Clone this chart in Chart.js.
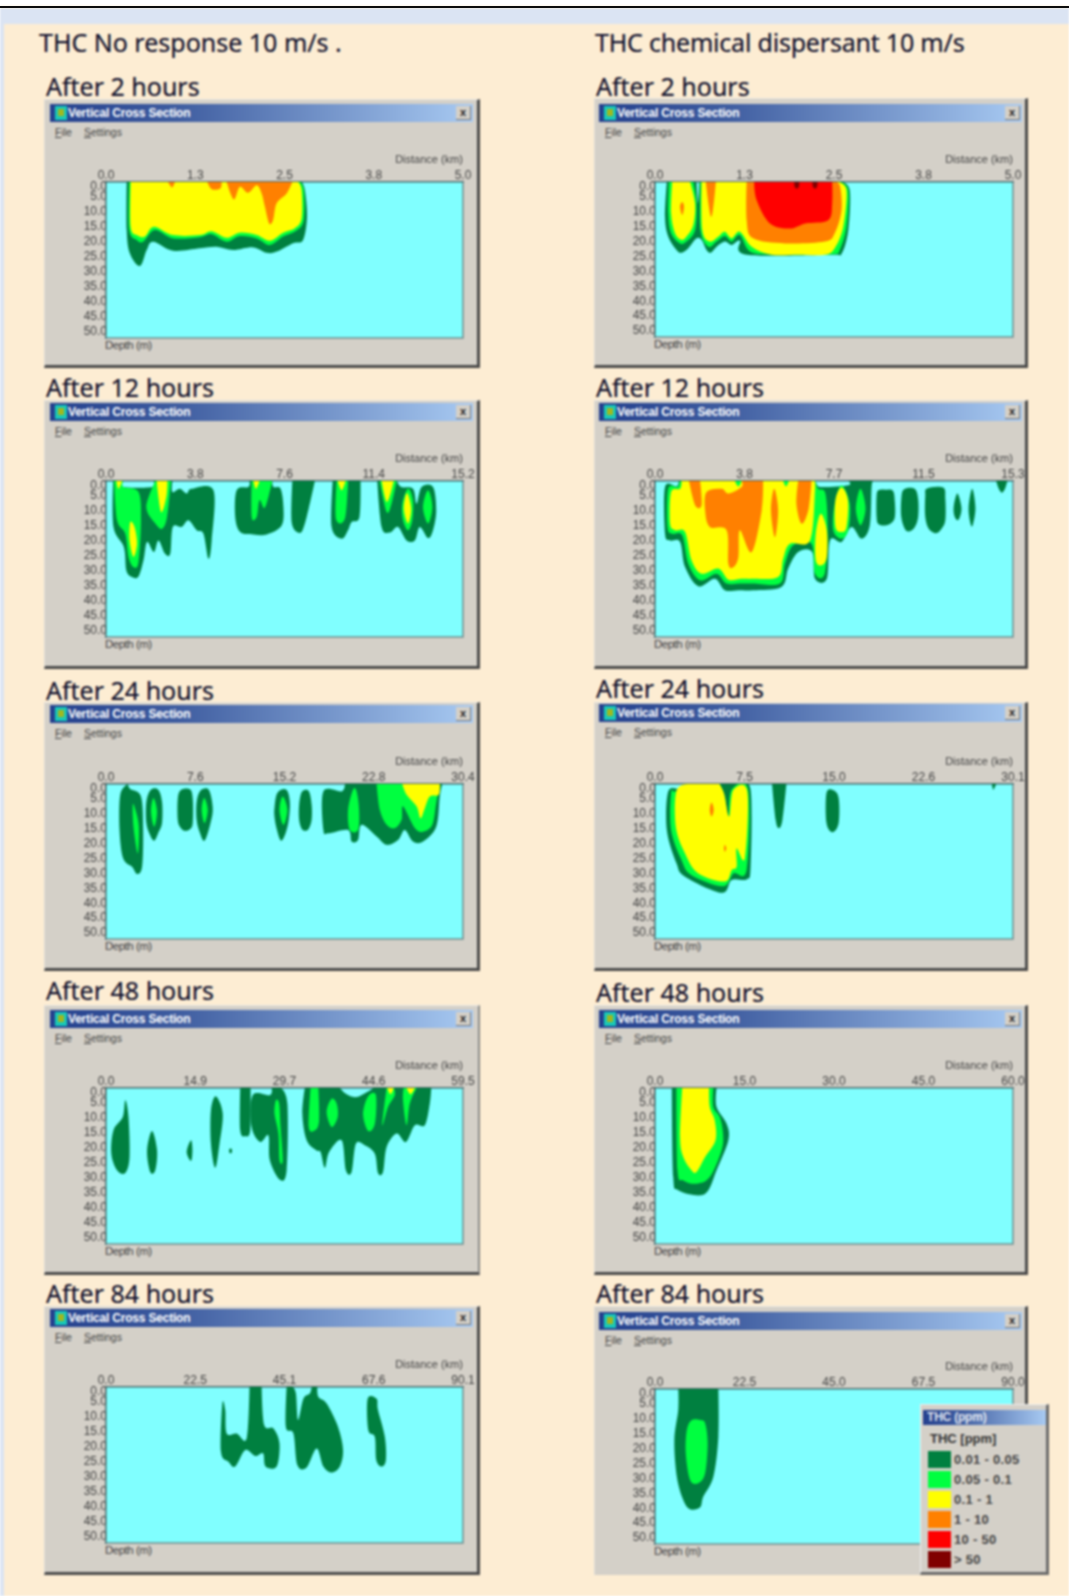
<!DOCTYPE html>
<html><head><meta charset="utf-8">
<script src="https://cdn.jsdelivr.net/npm/chart.js@4/dist/chart.umd.min.js"></script>
<style>
html,body{margin:0;padding:0;background:#fff;overflow:hidden}
#page{position:absolute;left:0;top:0;width:1069px;height:1596px;background:#fdedd3;overflow:hidden;filter:blur(.8px);font-family:"Liberation Sans",Arial,sans-serif}
#rule{position:absolute;left:0;top:6px;width:1069px;height:2px;background:#0c0c0c}
.abs{position:absolute;white-space:nowrap}
.head{font-family:"Noto Sans",sans-serif;font-size:25px;line-height:32px;color:#10102c;-webkit-text-stroke:.2px #10102c}
.win{position:absolute;background:#d4d0c8;box-sizing:border-box}
.bar{position:absolute;background:linear-gradient(90deg,#24408e 0%,#3f5da0 30%,#a8caf2 100%)}
.bar span.t{position:absolute;left:18px;top:0;line-height:18px;color:#fff;font-size:12px;font-weight:bold;letter-spacing:-.2px;white-space:nowrap}
.ico{position:absolute;left:5px;top:2px;width:12px;height:14px;background:#18c8b8}
.ico:after{content:"";position:absolute;left:3px;top:3px;width:6px;height:7px;background:#a0b820}
.xb{position:absolute;top:2px;width:14px;height:13px;background:#d4d0c8;color:#222;font-size:11px;font-weight:bold;text-align:center;line-height:13px;border-right:1px solid #777;border-bottom:1px solid #777}
.menu{position:absolute;font-size:10.5px;color:#444;line-height:12px}
.lab{position:absolute;font-size:11.5px;color:#444;line-height:14px;letter-spacing:-.5px}
canvas{position:absolute}
</style></head><body><div id="page"></div><div id="rule"></div>
<script>
// Contaminant classes (ppm)
const levelLabels = ['0.01 - 0.05','0.05 - 0.1','0.1 - 1','1 - 10','10 - 50','> 50'];
const levelColors = ['#008040','#00ff40','#ffff00','#ff8000','#ff0000','#800000'];
const depthTicks = [1.6,5,10,15,20,25,30,35,40,45,50];
const depthLabels = ['0.0','5.0','10.0','15.0','20.0','25.0','30.0','35.0','40.0','45.0','50.0'];

// Distance axes, km
const distLabelsA2 = ['0.0','1.3','2.5','3.8','5.0'];
const distLabelsB2 = ['0.0','1.3','2.5','3.8','5.0'];
const distLabelsA12 = ['0.0','3.8','7.6','11.4','15.2'];
const distLabelsB12 = ['0.0','3.8','7.7','11.5','15.3'];
const distLabelsA24 = ['0.0','7.6','15.2','22.8','30.4'];
const distLabelsB24 = ['0.0','7.5','15.0','22.6','30.1'];
const distLabelsA48 = ['0.0','14.9','29.7','44.6','59.5'];
const distLabelsB48 = ['0.0','15.0','30.0','45.0','60.0'];
const distLabelsA84 = ['0.0','22.5','45.1','67.6','90.1'];
const distLabelsB84 = ['0.0','22.5','45.0','67.5','90.0'];

// Plume outlines: [percent of section length, depth in m]
const A2_l1 = [[[5.8,0],[5.8,16],[6.7,23.8],[9.5,28],[11.4,22.7],[13.2,19.9],[18.8,22.9],[26.3,22.1],[31,21.6],[35.6,22.7],[41.2,21.8],[45,23.6],[47.8,23.2],[52.4,20.4],[55.2,19.3],[56.3,11.6],[55.7,2.7],[54.8,0]]];
const A2_l2 = [[[6.5,0],[6.5,16],[8.6,19.3],[10.4,19.9],[13.7,16],[18.8,18.8],[26.3,18.4],[29.6,17.4],[33.8,19.9],[37.5,18],[42.2,18.8],[45.9,21],[49.6,18.2],[53.4,16.2],[55.4,12.7],[55.4,2.7],[54.3,0]]];
const A2_l3 = [[[6.9,0],[6.9,14.9],[8.6,17.7],[10.9,18.2],[13.4,14.9],[18.8,17.7],[26.3,17.7],[29.6,16.4],[33.8,18.6],[37.5,16.9],[42.2,17.7],[45.9,19.6],[49.6,16.9],[52.9,15.4],[54.8,12.1],[54.8,2.7],[53.8,0]]];
const A2_l4 = [[[17.4,0],[18.5,1.8],[19.3,0]],[[28.4,0],[29.6,2.4],[32,2.2],[32.4,0]],[[33.8,0],[35.8,5.8],[37.5,1.6],[39.8,3.6],[42.2,1.1],[43.6,3.8],[44.5,8.2],[45.7,13.8],[46.8,12.7],[47.8,7.1],[50.6,3.8],[52.2,0]]];

const B2_l1 = [[[3.3,0],[2.8,11.7],[3.7,18.3],[6,22.8],[7.4,23.7],[9.3,22.2],[11.6,18.9],[13,19.4],[14.4,22.8],[15.6,23.7],[17.2,21.7],[19.5,20],[21.4,21.1],[23.7,19.7],[25.6,24.4],[49.3,24.4],[52.1,24.1],[54,16.1],[54.4,2.8],[52.1,0],[12.4,0],[12,7.2],[11.6,0]]];
const B2_l2 = [[[3.9,0],[3.7,10.6],[4.5,17.2],[7,20.6],[8.8,20],[11.2,16.1],[11.6,7.2],[10.7,0]],[[12.7,0],[12.7,16.1],[14.9,21.7],[17.2,20],[19.5,18.1],[21.4,20],[23.7,17.8],[26.5,23.3],[32.6,24.4],[40,24.4],[49.8,24.2],[51.6,22.8],[53.5,15],[54,2.8],[51.6,0]]];
const B2_l3 = [[[4.8,0],[4.5,10.6],[5.6,17.2],[7.4,19.4],[8.8,18.3],[10.7,14.4],[11.2,7.2],[9.8,0]],[[13,0],[13.2,16.1],[15.3,20],[17.7,18.3],[19.5,16.7],[21.4,18.9],[23.7,16.7],[27,21.7],[32.6,24.4],[40,24.4],[47.4,24.4],[50.2,22.2],[52.6,15],[53.5,2.8],[51.2,0]]];
const B2_l4 = [[[7.6,6.7],[7,8.3],[7.6,11.1],[8.1,8.3]],[[14.2,0],[15.7,11.7],[17,0]],[[25.6,0],[25.6,12.8],[27.4,18.9],[36.3,20.6],[47.4,20],[50.2,17.2],[52.1,9.4],[51.6,1.1],[49.8,0]]];
const B2_l5 = [[[27.7,0],[28.4,6.1],[32.1,13.9],[37.7,15.6],[42,13.9],[48.4,12.8],[49.5,7.2],[49.5,0]]];
const B2_l6 = [[[38.9,0],[39,1.6],[39.6,2.2],[40.2,1.6],[40.3,0]],[[44,0],[44.1,1.6],[44.7,2.2],[45.3,1.6],[45.4,0]]];

const A12_l1 = [
 [[2,0],[2.1,15.3],[5,22],[5.7,29.8],[7.3,32],[9.1,31.8],[10.5,26.4],[11.5,20.3],[13.4,23.7],[14.7,19.8],[16.5,24.2],[18,24.2],[18.7,15.3],[21.2,15.3],[23.1,13.1],[25.4,16.4],[27.3,17.6],[28.7,25.9],[29.6,19.8],[30.1,3.1],[24,2.6],[22.6,4.2],[20.7,2.6],[18.6,3.7],[18.6,0],[13.3,0],[12.9,2],[4.9,2],[4.9,0]],
 [[36.6,3.1],[36.2,12],[37.6,17],[41.3,17.8],[45,17.8],[49.2,14.8],[49.7,8.7],[48.9,2.6],[46.9,2],[46.6,0],[40.2,0],[39.9,2]],
 [[52.2,0],[52,13.7],[54.1,17.3],[55.7,14.2],[58.5,0]],
 [[63.5,0],[63.2,15.3],[66,19.2],[67.8,16.4],[68.8,13.7],[71,12],[71.3,0]],
 [[76,0],[77.2,15.3],[79.5,17.2],[81.8,15.3],[84.2,19.8],[86.5,19.8],[87.9,15.3],[90.2,19],[91.6,16.4],[92.5,9.8],[91.6,2],[88.4,2],[87,7.6],[86,2.6],[82.7,2],[81.5,0]]];
const A12_l2 = [
 [[2.3,0],[3.1,13.1],[5.4,17.6],[6.3,25.3],[7.7,28.7],[9.1,27],[9.8,13.1],[9.1,3.7],[4.9,2],[4.8,0]],
 [[13.8,0],[11.3,8.7],[13.8,14.2],[15.7,15.9],[17.1,12],[18.2,0]],
 [[40.8,0],[40.8,12],[42.2,12],[43,6.4],[44.5,8.9],[46.4,.9],[46.4,0]],
 [[64.6,0],[64.4,12.6],[66.9,12.6],[67.8,0]],
 [[76.7,0],[78.6,10.3],[80,7.6],[81.4,0]],
 [[84.6,2.6],[83,7.6],[83.2,13.1],[84.6,16.4],[85.8,13.1],[86,6.4]],
 [[90.2,3.1],[88.8,8.7],[90.2,14.2],[91.4,8.7]]];
const A12_l3 = [
 [[6.8,13.7],[6.6,19.8],[7.7,25.3],[8.7,20.9],[8,15.3]],
 [[2.9,0],[3.5,2.6],[4.5,0]],
 [[14.2,0],[15.4,10.3],[16.9,5.3],[17.2,0]],
 [[41.3,0],[42,2.6],[43,0]],
 [[64.9,0],[66,3.1],[67.1,0]],
 [[77.2,0],[78.7,7],[80.6,0]],
 [[84.3,4],[83.4,9.2],[84.6,14.2],[85.5,9.2]]];

const B12_l1 = [
 [[6.7,0],[6,1.8],[2.8,2],[2.8,17.6],[4.2,19.8],[7,20.3],[8.4,28.7],[12.1,35.1],[16.7,32.6],[19.5,36.4],[23.3,36.4],[27.4,36.4],[35.3,35.3],[37.2,29.2],[40,23.7],[43.9,23.7],[44.7,32.6],[48,32.6],[48.9,19.8],[52.1,20.3],[54.9,15.3],[57.7,19.2],[60,14.8],[60.5,2],[61,0],[54,0],[54,1.4],[46.5,2],[45.1,.9],[44.7,0]],
 [[61.9,5],[62.5,3],[64.5,2.9],[66.5,3.3],[67,7],[67,12],[66,14],[64.2,14.8],[62.4,14.3],[61.9,12]],
 [[68.8,6],[69.5,2.8],[72.5,2.6],[73.5,6],[73.5,12],[72.5,15.5],[71,16.8],[69.8,16],[68.8,12]],
 [[75.5,5],[76,2.5],[80.5,2.2],[81.1,6],[81.1,13],[80,16],[78.5,17.4],[76.5,16],[75.5,12]],
 [[83.5,8],[84.5,4.2],[85.6,9],[85,12.5],[84.2,12.9],[83.5,11]],
 [[87.6,9],[88.6,2.6],[89.5,9],[88.8,14.5],[88.2,14.5]],
 [[95.3,0],[96,2.5],[96.9,3.9],[97.8,2.5],[98.4,0]]];
const B12_l2 = [
 [[7,0],[6.3,2],[3.7,2.6],[3.5,15.3],[4.8,17.6],[7.6,18.1],[9.3,27.6],[12.6,33.1],[17.2,30.9],[20,34.2],[24.2,34.2],[27.4,34.2],[34.9,34.2],[36.3,27.6],[38.6,21.4],[43.7,20.9],[44.7,30.9],[47.4,30.9],[48.2,16.4],[47.6,4.2],[45.6,2.6],[44.7,0]],
 [[52.1,1.4],[50.2,7.6],[49.8,16.4],[52.1,19.2],[54,16.4],[54.4,7.6]],
 [[57.4,2.6],[56.1,9.2],[57.4,14.8],[58.8,9.2]]];
const B12_l3 = [
 [[7.4,0],[7,2.6],[4.5,3.7],[4.2,14.2],[5.6,16.4],[8.4,17],[10.2,26.4],[13,30.9],[17.7,29.2],[20.5,32.9],[24.2,32.6],[27.4,32.6],[34.4,32],[35.8,25.9],[37.7,20.9],[43.3,19.8],[44.7,3.1],[44.5,0],[37.4,0],[36.6,1.8],[35.8,0],[24.2,0],[23.3,1.8],[22.3,0]],
 [[46.3,10.9],[44.9,17.6],[44.9,26.4],[46.5,28.1],[48,25.3],[48,16.4]],
 [[52.1,2.2],[50.4,6.4],[50.4,15.3],[52.1,17],[53.5,15.3],[53.9,6.4]]];
const B12_l4 = [
 [[9.5,0],[11.2,8.1],[13,8.1],[12.6,0]],
 [[14.4,3.7],[14,9.8],[15.3,15.3],[20,16.4],[20.5,27.6],[21.9,28.7],[23.3,25.3],[23.7,16.4],[27,23.7],[29.8,9.8],[30.2,0],[24.2,0],[24.2,2],[20.5,4.2],[18.6,2.6]],
 [[33.3,2.6],[32.4,9.8],[33.5,18.7],[34.4,9.8]],
 [[40,0],[39.5,7.6],[40.9,14.2],[42.8,9.8],[43.7,0]]];

const A24_l1 = [
 [[6.1,0],[4,3.6],[3.8,15.4],[4.8,24.9],[7.3,27.8],[8.7,30.2],[10.1,27.8],[10.4,15.4],[9.8,4.2],[6.8,1.7]],
 [[11.3,6],[12.5,2],[14.6,1.9],[15.7,6],[15.7,13],[14.6,16.5],[13.5,19],[12.3,17],[11.3,13]],
 [[20.1,5],[21,2],[23.5,1.8],[24.3,5],[24.3,13],[23.5,15.2],[22,15.7],[20.8,14.5],[20.1,12]],
 [[25.4,6],[26.5,2.2],[28.8,2],[29.9,8],[29.3,13],[27.6,19],[26.2,16],[25.4,12]],
 [[47.2,8],[48,3],[50.5,1.9],[51.5,6],[51.2,12],[50.3,16.5],[49,19],[47.8,15],[47.2,11]],
 [[54.1,7],[54.9,2.6],[56.8,2.4],[57.6,7],[57.6,12],[56.8,15],[55.8,15.7],[54.8,15],[54.1,12]],
 [[60.9,2.5],[60.9,15.4],[62.3,16.5],[67.8,15.4],[68.8,19.3],[70.6,18.8],[71.6,13.7],[75.8,17.6],[78.6,20.4],[81.8,18.8],[83.7,15.4],[86,19.3],[88.8,19.3],[92.5,14.3],[93.5,4.2],[94.2,0],[66.9,0],[66,2.5]]];
const A24_l2 = [
 [[7.5,7],[7.7,14.3],[8.9,23.3],[9.2,14.3],[8.2,8.5]],
 [[13.3,4.7],[12.6,9.2],[13.5,14.3],[14.3,9.2]],
 [[27.5,4.7],[26.8,8.7],[27.6,13.1],[28.5,8.7]],
 [[49.5,4.2],[48.6,8.7],[49.7,13.7],[50.8,8.7]],
 [[69.2,1.9],[67.8,8.7],[68.3,15.4],[70.6,15.4],[70.9,8.7],[70.2,2.5]],
 [[75.8,0],[76.7,8.7],[78.6,13.7],[80.9,14.8],[82.8,12],[83.2,7.5],[86.5,14.8],[88.8,16],[91.4,13.7],[92.5,6.4],[93.5,0]]];
const A24_l3 = [[[83,0],[84.2,3.6],[87,7.5],[88.1,11.5],[89.3,8.1],[90.7,4.2],[93.2,3.6],[93.5,0]]];

const B24_l1 = [
 [[8.8,0],[7,1.7],[3.7,2.5],[3.3,15.4],[6,26.6],[8.4,31.1],[18.6,36.5],[21.4,32.2],[25.6,32],[26.7,27.8],[26.7,1.9],[23.4,1.3],[23.4,0]],
 [[32.7,0],[33.7,12],[34.6,14.8],[35.6,12],[36.7,0]],
 [[47.9,3],[47.9,13.1],[49.6,16.2],[51.3,13.1],[51.3,4.7],[49.8,2.1]],
 [[94.1,0],[94.5,1.9],[95.3,0]]];
const B24_l2 = [[[8.8,0],[5.6,2.5],[4.5,3],[4.5,15.4],[7.4,25.5],[10.2,30.6],[19,34.3],[21.9,30],[25.6,28.7],[26,1.9],[21.4,1.9],[20.5,10.9],[19.5,4.2],[18.1,0]]];
const B24_l3 = [[[9.3,0],[6,2.3],[5.8,14.3],[8.4,23.3],[12.1,30],[19.5,32.7],[21.4,28.9],[22.8,27.8],[22.8,21.6],[25.1,24.9],[25.8,2.5],[21.9,1.9],[20.7,10.9],[19.3,3.3],[18,0]]];
const B24_l4 = [[[15.8,6.2],[15.3,8.7],[15.8,10.9],[16.4,8.7]],[[19.5,20.4],[19.3,21.6],[19.5,22.7],[19.9,21.6]]];

const A48_l1 = [
 [[5.4,4.1],[4.7,9.7],[2.1,14.1],[1.5,21.9],[3.1,27.4],[5.4,28.3],[6.6,23],[6.3,9.7]],
 [[12.9,14.3],[11.5,20.8],[12.4,28],[13.8,27.4],[14.3,20.8]],
 [[23.8,17.4],[22.6,21.3],[23.8,24.3],[24.2,20.8]],
 [[30.8,2.8],[29.4,7.4],[29.4,18.6],[30.6,26.6],[31.8,18.6],[32.7,8.6]],
 [[34.5,20.6],[34.9,20.2],[35.3,20.6],[35.2,21.6],[34.9,21.8],[34.6,21.6]],
 [[37.6,0],[37.6,14.1],[39,16.1],[40.4,14.1],[40.5,0]],
 [[41.1,2.4],[40.8,13],[43.2,18],[45.5,15.8],[45.9,24.1],[48.7,30.6],[50.6,27.4],[50.8,5.2],[48.9,0],[46.4,0],[45.9,2.4]],
 [[55.7,0],[55,8.6],[56.2,17.4],[59,20.8],[60.1,21.3],[61.3,26.6],[62.5,21.3],[66,17.4],[67.2,27.4],[68.8,28],[70,18.6],[72.5,19.1],[75.3,21.9],[76.2,28.3],[77.6,28],[78.6,19.7],[81.4,15.2],[84,18],[86.5,12.4],[89.3,12.4],[90.7,5.2],[91.1,0],[74.8,0],[73.9,.8],[70.2,3],[67.4,2.1],[65.5,0]]];
const A48_l2 = [
 [[47.6,4.1],[47.2,8.6],[48.3,15.2],[48.6,24.1],[49.5,24.1],[48.9,13],[48.5,5.2]],
 [[57.3,0],[56.8,13],[58.5,14.1],[59.7,10.8],[59.5,0]],
 [[63.2,3.6],[61.8,8],[63.2,13],[64.9,9.7],[64.6,5.2]],
 [[73.4,2.8],[72,8.6],[73.4,14.3],[75.3,11.9],[75.6,2.4]],
 [[78.6,0],[77.4,12.4],[79,6.3],[80.9,2.4],[80.6,0]],
 [[83.4,0],[83.2,4.1],[84.2,12.4],[85.1,5.2],[87,0]]];
const A48_l3 = [[[78.8,0],[79.7,2.1],[80.6,0]],[[84.2,0],[85.3,2.1],[86.5,0]]];

const B48_l1 = [[[4.7,0],[5.1,29.7],[6.5,34.1],[12.1,35.8],[14.9,34.1],[17.2,27.4],[20.5,17.4],[20,11.9],[17.2,6.3],[17.2,0]]];
const B48_l2 = [[[6,0],[6.3,27.4],[7.9,30.8],[11.6,31.9],[15.3,29.7],[18.6,20.8],[19,15.2],[18.1,9.7],[16.3,6.3],[16.3,0]]];
const B48_l3 = [[[7.6,0],[7,16.3],[7.9,23],[10.2,27.4],[11.6,28],[14,23],[16.9,17.4],[16.7,10.8],[15.3,6.3],[15.1,0]]];

const A84_l1 = [
 [[32.6,5.5],[32.2,21.6],[34.3,24.9],[36.2,26.5],[39,21],[41.8,23],[44,22.1],[44.7,26.5],[47.8,26.5],[48.6,18.8],[46.9,13.8],[44.3,12.7],[43.6,0],[40.2,0],[39.4,17.1],[36.6,15.5],[33.8,15.5],[33.4,7.7]],
 [[50.6,0],[50.4,13.3],[52.5,15.5],[53.6,26],[56.2,26.8],[59,20.5],[60.9,26.5],[63.2,28.5],[65.5,26.5],[66.4,21],[65,13.3],[61.8,5.5],[59.5,3.3],[59.2,0],[57.6,0],[57.1,2.2],[55.3,3.9],[53.8,11],[53.2,2.2],[52.3,0]],
 [[73.3,3.9],[73.5,14.4],[75.3,16.6],[75.7,24.3],[77.2,26.5],[78.4,24.3],[78.1,16.6],[76.2,7.7],[75.8,3.9]]];

const B84_l1 = [[[6.5,0],[6.5,7],[5.4,17.1],[6.1,29.4],[7.9,37.2],[9.8,40.3],[12.6,39.7],[13.5,36.1],[16.3,29.4],[17.7,16],[17.7,0]]];
const B84_l2 = [[[10.3,10.4],[8.9,13.7],[8.6,21.6],[9.8,30.5],[12.1,31.6],[14,28.3],[14.7,18.2],[14,11.5],[12.6,10.4]]];

// Page furniture
const page = document.getElementById('page');
function add(cls, css, text){const d=document.createElement('div');d.className=cls;d.style.cssText=css;if(text!=null)d.textContent=text;page.appendChild(d);return d;}
add('abs','left:0;top:0;width:1069px;height:6px;background:#fff');
add('abs','left:0;top:8px;width:1069px;height:16px;background:#dbe4f3');
add('abs','left:0;top:24px;width:4px;height:1572px;background:#dbe4f3');
add('abs head','left:39px;top:26px','THC No response 10 m/s .');
add('abs head','left:595px;top:26px;letter-spacing:-.2px','THC chemical dispersant 10 m/s');

// layout: column plot edges and per-row window geometry
const COL = {A:{wl:44,wr:480,bl:50,br:473,pl:106,pr:463,tx:46},B:{wl:594,wr:1028,bl:599,br:1022,pl:655,pr:1013,tx:596}};
const panels = [
 {c:'A',h:'After 2 hours',ty:86,wt:99,wb:368,bt:104,pt:182,pb:338,xMax:5,labels:distLabelsA2,layers:[A2_l1,A2_l2,A2_l3,A2_l4]},
 {c:'B',h:'After 2 hours',ty:86,wt:98,wb:368,bt:104,pt:182,pb:337,xMax:5,labels:distLabelsB2,layers:[B2_l1,B2_l2,B2_l3,B2_l4,B2_l5,B2_l6]},
 {c:'A',h:'After 12 hours',ty:387,wt:400,wb:669,bt:403,pt:481,pb:637,xMax:15.2,labels:distLabelsA12,layers:[A12_l1,A12_l2,A12_l3]},
 {c:'B',h:'After 12 hours',ty:387,wt:400,wb:669,bt:403,pt:481,pb:637,xMax:15.3,labels:distLabelsB12,layers:[B12_l1,B12_l2,B12_l3,B12_l4]},
 {c:'A',h:'After 24 hours',ty:690,wt:702,wb:971,bt:705,pt:784,pb:939,xMax:30.4,labels:distLabelsA24,layers:[A24_l1,A24_l2,A24_l3]},
 {c:'B',h:'After 24 hours',ty:688,wt:702,wb:971,bt:704,pt:784,pb:939,xMax:30.1,labels:distLabelsB24,layers:[B24_l1,B24_l2,B24_l3,B24_l4]},
 {c:'A',h:'After 48 hours',ty:990,wt:1005,wb:1275,bt:1010,pt:1088,pb:1244,xMax:59.5,labels:distLabelsA48,layers:[A48_l1,A48_l2,A48_l3],lightRight:true},
 {c:'B',h:'After 48 hours',ty:992,wt:1005,wb:1275,bt:1010,pt:1088,pb:1244,xMax:60,labels:distLabelsB48,layers:[B48_l1,B48_l2,B48_l3]},
 {c:'A',h:'After 84 hours',ty:1293,wt:1306,wb:1575,bt:1309,pt:1387,pb:1543,xMax:90.1,labels:distLabelsA84,layers:[A84_l1]},
 {c:'B',h:'After 84 hours',ty:1293,wt:1306,wb:1575,bt:1312,pt:1389,pb:1544,xMax:90,labels:distLabelsB84,layers:[B84_l1,B84_l2],noBottom:true}
];

// sea background goes under the axis labels; outlines are painted through the chart's own points
const plumePlugin = {
 id:'plume',
 beforeDraw(chart){
  const {ctx,chartArea:a}=chart;
  ctx.save();
  ctx.fillStyle='#80ffff';
  ctx.fillRect(a.left,a.top,a.width,a.height);
  ctx.restore();
 },
 beforeDatasetsDraw(chart){
  const {ctx,chartArea:a}=chart;
  ctx.save();
  ctx.beginPath();ctx.rect(a.left,a.top,a.width,a.height);ctx.clip();
  chart.data.datasets.forEach((ds,i)=>{
   const pts=chart.getDatasetMeta(i).data, n=pts.length, k=1/6;
   ctx.beginPath();
   ctx.moveTo(pts[0].x,pts[0].y);
   for(let j=0;j<n;j++){
    const p0=pts[(j-1+n)%n],p1=pts[j],p2=pts[(j+1)%n],p3=pts[(j+2)%n];
    const s1=ds.data[j].y===0, s2=ds.data[(j+1)%n].y===0;
    const c1x=s1?p1.x:p1.x+(p2.x-p0.x)*k, c1y=s1?p1.y:p1.y+(p2.y-p0.y)*k;
    const c2x=s2?p2.x:p2.x-(p3.x-p1.x)*k, c2y=s2?p2.y:p2.y-(p3.y-p1.y)*k;
    ctx.bezierCurveTo(c1x,c1y,c2x,c2y,p2.x,p2.y);
   }
   ctx.closePath();
   ctx.fillStyle=ds.backgroundColor;
   ctx.fill();
  });
  ctx.restore();
  ctx.save();
  ctx.strokeStyle='#6f8f90';ctx.lineWidth=1.5;
  ctx.beginPath();ctx.moveTo(a.left,a.bottom);ctx.lineTo(a.right,a.bottom);ctx.lineTo(a.right,a.top);ctx.stroke();
  ctx.restore();
 }
};

panels.forEach(p=>{
 const col=COL[p.c], W=col.wr-col.wl, H=p.wb-p.wt;
 add('abs head',`left:${col.tx}px;top:${p.ty-16}px`,p.h);
 add('win',`left:${col.wl}px;top:${p.wt}px;width:${W}px;height:${H}px;border-right:${p.lightRight?'2px solid #8a8a88':'3px solid #4a4a4a'};border-bottom:${p.noBottom?'0':'3px solid #4a4a4a'};border-top:1px solid #e8e6e2;border-left:1px solid #e0ded8`);
 const bar=add('bar',`left:${col.bl}px;top:${p.bt}px;width:${col.br-col.bl}px;height:18px`);
 bar.innerHTML='<div class="ico"></div><span class="t">Vertical Cross Section</span>';
 const xb=document.createElement('div');xb.className='xb';xb.style.right='2px';xb.textContent='x';bar.appendChild(xb);
 add('menu',`left:${col.wl+11}px;top:${p.bt+22}px`).innerHTML='<u>F</u>ile';
 add('menu',`left:${col.wl+40}px;top:${p.bt+22}px`).innerHTML='<u>S</u>ettings';
 add('lab',`left:${col.pl-1}px;top:${p.pb}px`,'Depth (m)');

 const cv=document.createElement('canvas');
 cv.width=W;cv.height=H;cv.style.left=col.wl+'px';cv.style.top=p.wt+'px';
 page.appendChild(cv);

 const datasets=[];
 p.layers.forEach((polys,lv)=>polys.forEach(poly=>datasets.push({
  label:levelLabels[lv],
  backgroundColor:levelColors[lv],
  pointRadius:0,showLine:false,
  data:poly.map(([pct,d])=>({x:pct/100*p.xMax,y:d}))
 })));
 const tickFont={family:'"Liberation Sans",Arial,sans-serif',size:12};
 const titleFont={family:'"Liberation Sans",Arial,sans-serif',size:11};
 new Chart(cv,{
  type:'scatter',
  data:{datasets},
  plugins:[plumePlugin],
  options:{
   responsive:false,animation:false,events:[],
   layout:{padding:{left:0,top:0,right:col.wr-col.pr,bottom:p.wb-p.pb}},
   plugins:{legend:{display:false},tooltip:{enabled:false}},
   scales:{
    x:{type:'linear',position:'top',min:0,max:p.xMax,
     grid:{display:false,drawTicks:false},
     border:{display:true,color:'#4f6a6c',width:1.5},
     afterBuildTicks(s){s.ticks=[0,.25,.5,.75,1].map(f=>({value:f*p.xMax}));},
     afterFit(s){s.height=p.pt-p.wt;},
     ticks:{autoSkip:false,maxRotation:0,padding:-1,color:'#444',font:tickFont,callback:(v,i)=>p.labels[i]},
     title:{display:true,text:'Distance (km)',align:'end',color:'#444',font:titleFont,padding:{top:p.pt-p.wt-29,bottom:0}}
    },
    y:{type:'linear',position:'left',reverse:true,min:0,max:52,
     grid:{display:false,drawTicks:false},
     border:{display:true,color:'#4f6a6c',width:1.5},
     afterBuildTicks(s){s.ticks=depthTicks.map(v=>({value:v}));},
     afterFit(s){s.width=col.pl-col.wl;},
     ticks:{autoSkip:false,padding:-1,color:'#444',font:tickFont,callback:(v,i)=>depthLabels[i]}
    }
   }
  }
 });
});

// Colour key window
add('win','left:920px;top:1404px;width:129px;height:171px;border-right:3px solid #6a6a6a;border-bottom:3px solid #6a6a6a;border-top:1px solid #eee;border-left:1px solid #eee;box-sizing:border-box');
const lb=add('bar','left:923px;top:1410px;width:123px;height:15px');
const lt=document.createElement('span');lt.className='t';lt.style.cssText='left:4px;line-height:15px;font-size:12px;opacity:.85';lt.textContent='THC (ppm)';lb.appendChild(lt);
add('abs','left:930px;top:1431px;font-size:13px;font-weight:bold;color:#333;line-height:15px','THC [ppm]');
levelLabels.forEach((t,i)=>{
 add('abs',`left:928px;top:${1451+i*20}px;width:23px;height:17px;background:${levelColors[i]}`);
 add('abs',`left:954px;top:${1452+i*20}px;font-size:13px;font-weight:bold;color:#444;line-height:15px;letter-spacing:.3px`,t);
});
</script></body></html>
